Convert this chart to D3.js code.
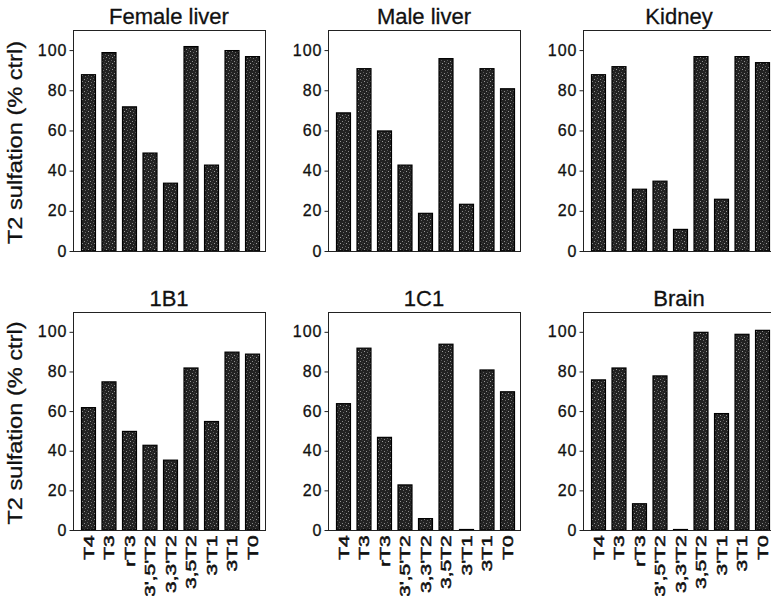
<!DOCTYPE html>
<html>
<head>
<meta charset="utf-8">
<script src="https://cdn.jsdelivr.net/npm/d3@7"></script>
<style>
  html, body { margin: 0; padding: 0; background: #fff; }
  svg { display: block; }
  text { font-family: "Liberation Sans", Arial, sans-serif; fill: #111; }
</style>
</head>
<body>
<svg id="chart" width="771" height="596"></svg>
<script>
// iodothyronine substrates (x categories)
const categories = ["T4", "T3", "rT3", "3',5'T2", "3,3'T2", "3,5T2", "3'T1", "3T1", "T0"];
const panelTitles = ["Female liver", "Male liver", "Kidney", "1B1", "1C1", "Brain"];

// T2 sulfation, % of control
const femaleLiver = [88, 99, 72, 49, 34, 102, 43, 100, 97];
const maleLiver   = [69, 91, 60, 43, 19, 96, 23.5, 91, 81];
const kidney      = [88, 92, 31, 35, 11, 97, 26, 97, 94];
const sult1B1     = [62, 75, 50, 43, 35.5, 82, 55, 90, 89];
const sult1C1     = [64, 92, 47, 23, 6, 94, 0.5, 81, 70];
const brain       = [76, 82, 13.5, 78, 0.5, 100, 59, 99, 101];

const yTicks = [0, 20, 40, 60, 80, 100];
const yLabel = "T2 sulfation (% ctrl)";

const series = [femaleLiver, maleLiver, kidney, sult1B1, sult1C1, brain];

// ── layout ──
const COL_X = [73, 328, 583];
const PANEL_W = 192;
const ROWS = [{ top: 30, base: 251 }, { top: 312, base: 530 }];

const svg = d3.select('#chart');

// stippled dark fill like the printed bars
const defs = svg.append('defs');
const pat = defs.append('pattern')
  .attr('id', 'stipple').attr('patternUnits', 'userSpaceOnUse')
  .attr('width', 6).attr('height', 6);
pat.append('rect').attr('width', 6).attr('height', 6).attr('fill', '#222');
[[0, 1, '#8c8c8c'], [3, 0, '#5a5a5a'], [4, 3, '#9a9a9a'], [1, 4, '#6a6a6a'], [2, 2, '#3c3c3c']]
  .forEach(([dx, dy, c]) => pat.append('rect').attr('x', dx).attr('y', dy)
    .attr('width', 1).attr('height', 1).attr('fill', c));

series.forEach((vals, i) => {
  const row = Math.floor(i / 3), col = i % 3;
  const left = COL_X[col], { top, base } = ROWS[row];

  const x = d3.scaleBand().domain(categories)
    .range([left + 8, left + 187]).paddingInner(0.27).paddingOuter(0);
  const y = d3.scaleLinear().domain([0, 110]).range([base, top]);

  const g = svg.append('g').attr('class', 'panel');

  // bars
  g.selectAll('.bar')
    .data(categories.map((c, k) => ({ c, v: vals[k] })))
    .join('rect')
    .attr('class', 'bar')
    .attr('x', d => x(d.c) + 0.5)
    .attr('width', x.bandwidth() - 1)
    .attr('y', d => y(d.v) + 0.5)
    .attr('height', d => Math.max(0, y(0) - y(d.v) - 0.5))
    .attr('fill', 'url(#stipple)')
    .attr('stroke', '#000').attr('stroke-width', 1.2);

  // frame box
  g.append('rect')
    .attr('x', left + 0.5).attr('y', top + 0.5)
    .attr('width', PANEL_W).attr('height', base - top)
    .attr('fill', 'none').attr('stroke', '#222').attr('stroke-width', 1);

  // y axis
  const ax = g.append('g')
    .attr('transform', `translate(${left + 0.5},0)`)
    .call(d3.axisLeft(y).tickValues(yTicks).tickSize(4).tickPadding(2));
  ax.select('.domain').remove();
  ax.selectAll('line').attr('stroke', '#222');
  ax.selectAll('text')
    .attr('fill', '#111')
    .attr('stroke', '#111').attr('stroke-width', 0.3)
    .style('font-size', '16px')
    .style('letter-spacing', '1px')
    .style('font-family', '"Liberation Sans", Arial, sans-serif');

  // title
  g.append('text')
    .attr('x', left + PANEL_W / 2).attr('y', top - 6)
    .attr('text-anchor', 'middle')
    .attr('stroke', '#111').attr('stroke-width', 0.3)
    .style('font-size', '22px')
    .text(panelTitles[i]);

  // y title on the first column
  if (col === 0) {
    g.append('text')
      .attr('transform', `translate(15,${(top + base) / 2 + 2}) rotate(-90) scale(1.18,1)`)
      .attr('text-anchor', 'middle')
      .attr('dy', '0.35em')
      .attr('stroke', '#111').attr('stroke-width', 0.3)
      .style('font-size', '20px')
      .text(yLabel);
  }

  // rotated category labels on the bottom row
  if (row === 1) {
    const xa = g.append('g')
      .attr('transform', `translate(0,${base})`)
      .call(d3.axisBottom(x).tickSize(0).tickPadding(0));
    xa.select('.domain').remove();
    xa.selectAll('text')
      .attr('fill', '#111')
      .attr('stroke', '#111').attr('stroke-width', 0.5)
      .attr('transform', 'rotate(-90) scale(1.5,1)')
      .attr('text-anchor', 'end')
      .attr('x', -3.5)
      .attr('y', 0)
      .attr('dy', '0.36em')
      .style('font-size', '14px')
      .style('font-family', '"Liberation Sans", Arial, sans-serif');
  }
});
</script>
</body>
</html>
